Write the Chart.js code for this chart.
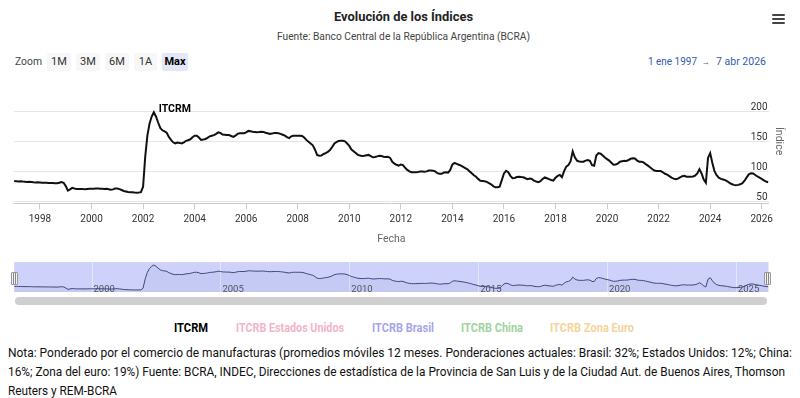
<!DOCTYPE html>
<html lang="es">
<head>
<meta charset="utf-8">
<title>Evolución de los Índices</title>
<script src="https://cdn.jsdelivr.net/npm/chart.js@4.4.1/dist/chart.umd.min.js"></script>
<style>
html,body{margin:0;padding:0;background:#fff}
body{width:800px;height:398px;position:relative;overflow:hidden;font-family:Roboto,"Liberation Sans",Arial,sans-serif;color:#333}
.t{position:absolute;white-space:nowrap;display:inline-block;line-height:1.25;transform-origin:0 50%}
.btn{position:absolute;top:53px;height:18px;line-height:18px;text-align:center;font-size:11px;color:#333;background:#f7f7f7;border-radius:2px}
.btn.sel{background:#e3e7f8;color:#000;font-weight:bold}
canvas{position:absolute;left:0}
.bar{position:absolute;left:772px;width:13px;height:2px;background:#444;border-radius:1px}
.handle{position:absolute;top:272px;width:5px;height:11px;border:1px solid #999;border-radius:1px;
 background:linear-gradient(90deg,#f2f2f2 1px,#888 1px,#888 2px,#f2f2f2 2px,#f2f2f2 3px,#888 3px,#888 4px,#f2f2f2 4px)}
#scroll{position:absolute;left:15px;top:297px;width:752px;height:8px;background:#cfcfcf;border-radius:4px}
#yTitle{position:absolute;writing-mode:vertical-rl;font-size:10.5px;color:#666;white-space:nowrap}
</style>
</head>
<body>
<span class="t" data-x="334" data-y="17" data-w="139" style="font-size:13px;font-weight:bold;color:#222">Evolución de los Índices</span>
<span class="t" data-x="277" data-y="37" data-w="253" style="font-size:11px;color:#444">Fuente: Banco Central de la República Argentina (BCRA)</span>

<div class="bar" style="top:14px"></div>
<div class="bar" style="top:18px"></div>
<div class="bar" style="top:22px"></div>

<span class="t" data-x="15" data-y="62" data-w="27" style="font-size:11px;color:#444">Zoom</span>
<div id="buttons"></div>

<span class="t" data-x="648" data-y="62" data-w="49" style="font-size:11px;color:#335cad">1 ene 1997</span>
<span class="t" data-x="702" data-y="62" data-w="8" style="font-size:11px;color:#666">→</span>
<span class="t" data-x="716" data-y="62" data-w="50" style="font-size:11px;color:#335cad">7 abr 2026</span>

<canvas id="main" width="800" height="160" style="top:90px;width:800px;height:160px"></canvas>
<div id="yTitle">Índice</div>

<canvas id="nav" width="800" height="30" style="top:262px;width:800px;height:30px"></canvas>
<div class="handle" style="left:11px"></div>
<div class="handle" style="left:764px"></div>
<div id="scroll"></div>

<div id="legend"></div>

<span class="t" data-x="8" data-y="353" data-w="784" style="font-size:13px;color:#111">Nota: Ponderado por el comercio de manufacturas (promedios móviles 12 meses. Ponderaciones actuales: Brasil: 32%; Estados Unidos: 12%; China:</span>
<span class="t" data-x="8" data-y="372" data-w="777" style="font-size:13px;color:#111">16%; Zona del euro: 19%) Fuente: BCRA, INDEC, Direcciones de estadística de la Provincia de San Luis y de la Ciudad Aut. de Buenos Aires, Thomson</span>
<span class="t" data-x="8" data-y="391" data-w="109" style="font-size:13px;color:#111">Reuters y REM-BCRA</span>

<script>
// ---------- DATA ----------
const startYear = 1997;            // first month: January 1997, monthly values
const rangeStart = 1997.0;         // 1 ene 1997
const rangeEnd = 2026 + 96 / 365;  // 7 abr 2026

const itcrm_1997_2001 = [
  84.5, 84.2, 83.8, 84.0, 83.5, 83.2, 82.8, 83.2, 82.8, 82.3, 82.0, 82.2,
  82.0, 81.7, 81.4, 81.6, 81.3, 81.0, 81.2, 80.8, 80.6, 81.5, 82.8, 81.5,
  76.0, 68.5, 70.5, 73.0, 72.0, 71.2, 71.0, 71.3, 71.0, 70.8, 71.2, 71.5,
  71.7, 71.5, 71.8, 72.0, 71.5, 71.7, 71.2, 71.4, 70.6, 69.8, 70.5, 71.8,
  72.0, 71.0, 69.5, 67.8, 67.0, 66.2, 65.6, 65.8, 65.3, 65.0, 65.3, 65.8
];
const itcrm_2002_2006 = [
  75, 125, 160, 180, 192, 199, 192, 182, 173, 169, 167, 165,
  158, 153, 149, 147, 148.5, 148, 147, 149, 151.5, 152.5, 154, 157.5,
  160, 160, 157, 153, 153.5, 154.5, 156.5, 159, 160, 161, 163, 165.5,
  164.5, 162, 161.5, 161, 161, 159.5, 158, 160, 163, 164, 164, 164,
  165.5, 168, 167.5, 166.7, 166.3, 165.6, 166, 166.7, 166.3, 165, 164, 163
];
const itcrm_2007_2011 = [
  163.5, 164.5, 164.5, 164, 163, 161.5, 160, 157.5, 156, 159, 160, 160,
  160, 160, 159.5, 157, 153, 150, 147, 144, 137, 128, 126.5, 127,
  129.5, 131, 133, 136, 141, 146.5, 149.5, 151, 151.5, 151.5, 150.5, 147,
  143, 137, 134, 131, 128, 127, 126, 126.5, 127.5, 128, 126, 124,
  124.5, 125.5, 126.5, 126, 125, 124.5, 125, 123, 116.5, 113.5, 111.5, 110
];
const itcrm_2012_2016 = [
  112, 111, 106.5, 103, 100.5, 99, 99, 99, 99.5, 100.5, 100.5, 100,
  100.5, 102, 102, 101.5, 100.5, 97.5, 96.5, 96.5, 98.5, 99, 98.5, 103,
  112, 114.5, 113, 111.5, 110, 108, 106, 104, 100.5, 97.5, 94, 91.5,
  88, 85, 84.5, 84, 83, 81, 79, 76, 74, 74, 75, 86,
  97, 101.5, 99, 93, 89, 89.5, 91, 91.7, 91, 90.6, 89, 87.5
];
const itcrm_2017_2021 = [
  88.5, 88, 85, 83.5, 82.5, 84, 88, 90.5, 89, 87.5, 86, 85,
  90, 93, 94.5, 91, 101, 108.5, 111, 117, 134, 124, 118.5, 117,
  116.5, 116.7, 118.5, 119.5, 118, 111, 110, 127, 131, 130, 127, 123.5,
  121, 118.5, 115, 111.5, 112, 113.5, 116.7, 117.5, 118.3, 118, 119.5, 121.5,
  122.3, 122, 118.5, 116.7, 116.5, 115.5, 112.5, 110, 107.5, 104.5, 102, 101
];
const itcrm_2022_2026 = [
  101, 101, 99, 96.5, 95, 92.5, 90, 88.5, 87.3, 88.5, 90.6, 92.5,
  93, 91.5, 91.7, 91.5, 92, 93.5, 97, 104, 97, 87, 81.5, 123,
  131, 115, 101, 94, 90, 88, 87, 86, 84, 81.5, 79.5, 78,
  77.5, 78, 79, 81, 85, 90.5, 95.5, 97.5, 97, 94.5, 92, 90,
  88, 85.5, 83.5, 82.5
];

const xTickYears = [1998, 2000, 2002, 2004, 2006, 2008, 2010, 2012, 2014, 2016, 2018, 2020, 2022, 2024, 2026];
const yTickValues = [50, 100, 150, 200];
const navTickYears = [2000, 2005, 2010, 2015, 2020, 2025];
const rangeButtons = ['1M', '3M', '6M', '1A', 'Max'];
const legendNames = ['ITCRM', 'ITCRB Estados Unidos', 'ITCRB Brasil', 'ITCRB China', 'ITCRB Zona Euro'];

// ---------- BUILD ----------
const itcrm = [].concat(itcrm_1997_2001, itcrm_2002_2006, itcrm_2007_2011,
                        itcrm_2012_2016, itcrm_2017_2021, itcrm_2022_2026);
const points = itcrm.map((v, i) => ({ x: startYear + i / 12, y: v }));

// range buttons
const btnLeft = [47, 76, 105, 134, 162];
const btnWidth = [24, 24, 24, 23, 26];
const bc = document.getElementById('buttons');
rangeButtons.forEach((b, i) => {
  const d = document.createElement('div');
  d.className = 'btn' + (b === 'Max' ? ' sel' : '');
  d.style.left = btnLeft[i] + 'px';
  d.style.width = btnWidth[i] + 'px';
  d.textContent = b;
  bc.appendChild(d);
});

// legend
const legendColors = ['#000000', '#f2b4c6', '#a7a5ea', '#9fd49f', '#f6d49c'];
const legendBox = [[174, 34], [236, 108], [372, 62], [461, 62], [550, 84]];
const lg = document.getElementById('legend');
legendNames.forEach((n, i) => {
  const s = document.createElement('span');
  s.className = 't';
  s.dataset.x = legendBox[i][0];
  s.dataset.y = 328;
  s.dataset.w = legendBox[i][1];
  s.style.fontSize = '12px';
  s.style.fontWeight = 'bold';
  s.style.color = legendColors[i];
  s.textContent = n;
  lg.appendChild(s);
});

// fit text boxes
function fitTexts() {
  document.querySelectorAll('[data-w]').forEach(el => {
    el.style.transform = 'none';
    const w = +el.dataset.w, x = +el.dataset.x, y = +el.dataset.y;
    const r = el.getBoundingClientRect();
    el.style.left = x + 'px';
    el.style.top = (y - r.height / 2) + 'px';
    el.style.transform = 'scaleX(' + (w / r.width) + ')';
  });
  const yt = document.getElementById('yTitle');
  const r = yt.getBoundingClientRect();
  yt.style.left = (779 - r.width / 2) + 'px';
  yt.style.top = (141.5 - r.height / 2) + 'px';
}
fitTexts();
if (document.fonts && document.fonts.ready) document.fonts.ready.then(fitTexts);

Chart.defaults.font.family = 'Roboto, "Liberation Sans", Arial, sans-serif';

const mainDecor = {
  id: 'mainDecor',
  afterDatasetsDraw(chart) {
    const { ctx, chartArea, scales: { x, y } } = chart;
    ctx.save();
    ctx.font = '10px Roboto, "Liberation Sans", Arial, sans-serif';
    ctx.fillStyle = '#333';
    ctx.textAlign = 'right';
    ctx.textBaseline = 'alphabetic';
    yTickValues.forEach(v => ctx.fillText(String(v), chartArea.right - 1, y.getPixelForValue(v) - 2));
    const data = chart.data.datasets[0].data;
    let im = 0;
    data.forEach((p, i) => { if (p.y > data[im].y) im = i; });
    ctx.font = 'bold 10.5px Roboto, "Liberation Sans", Arial, sans-serif';
    ctx.fillStyle = '#000';
    ctx.textAlign = 'left';
    ctx.textBaseline = 'middle';
    ctx.fillText('ITCRM', x.getPixelForValue(data[im].x) + 5, y.getPixelForValue(data[im].y) - 3);
    ctx.restore();
  }
};

new Chart(document.getElementById('main'), {
  type: 'line',
  data: { datasets: [{
    label: 'ITCRM', data: points, borderColor: '#111', borderWidth: 2,
    pointRadius: 0, tension: 0, fill: false, clip: 4
  }] },
  options: {
    responsive: false, animation: false, devicePixelRatio: 1,
    layout: { padding: { left: 14.2, right: 31.5, top: 21.7, bottom: 0 } },
    plugins: { legend: { display: false }, tooltip: { enabled: false }, title: { display: false } },
    scales: {
      x: {
        type: 'linear', min: rangeStart, max: rangeEnd,
        afterBuildTicks: s => { s.ticks = xTickYears.map(v => ({ value: v })); },
        ticks: { autoSkip: false, maxRotation: 0, color: '#333', font: { size: 10 }, padding: 4,
                 callback: v => String(v) },
        grid: { drawOnChartArea: false, drawTicks: true, tickLength: 6, color: '#c8ccd6' },
        border: { display: true, color: '#c8ccd6' },
        title: { display: true, text: 'Fecha', color: '#666', font: { size: 10.5 }, padding: { top: 0, bottom: 4.4 } },
        afterFit: s => { s.height = 46.7; s.paddingLeft = 0; s.paddingRight = 0; }
      },
      y: {
        type: 'linear', position: 'right', min: 47.3, max: 200,
        afterBuildTicks: s => { s.ticks = yTickValues.map(v => ({ value: v })); },
        ticks: { display: false },
        grid: { color: '#e6e6e6', drawTicks: false },
        border: { display: false },
        afterFit: s => { s.width = 0; s.paddingTop = 0; s.paddingBottom = 0; }
      }
    }
  },
  plugins: [mainDecor]
});

const navDecor = {
  id: 'navDecor',
  beforeDatasetsDraw(chart) {
    const { ctx, chartArea: a, scales: { x } } = chart;
    ctx.save();
    ctx.fillStyle = 'rgba(112,120,236,0.34)';
    ctx.fillRect(a.left, a.top, a.right - a.left, a.bottom - a.top);
    ctx.strokeStyle = 'rgba(255,255,255,0.45)';
    ctx.lineWidth = 1;
    navTickYears.forEach(v => {
      const px = Math.round(x.getPixelForValue(v)) + 0.5;
      ctx.beginPath(); ctx.moveTo(px, a.top); ctx.lineTo(px, a.bottom); ctx.stroke();
    });
    ctx.font = '9.5px Roboto, "Liberation Sans", Arial, sans-serif';
    ctx.fillStyle = '#555';
    ctx.textAlign = 'left';
    ctx.textBaseline = 'alphabetic';
    navTickYears.forEach(v => ctx.fillText(String(v), x.getPixelForValue(v) + 2, a.bottom - 0.5));
    ctx.restore();
  }
};

new Chart(document.getElementById('nav'), {
  type: 'line',
  data: { datasets: [{
    data: points, borderColor: '#3e4878', borderWidth: 1, pointRadius: 0, tension: 0,
    fill: 'start', backgroundColor: 'rgba(51,92,173,0.06)'
  }] },
  options: {
    responsive: false, animation: false, devicePixelRatio: 1,
    layout: { padding: { left: 14.2, right: 31.5, top: 0, bottom: 0 } },
    plugins: { legend: { display: false }, tooltip: { enabled: false } },
    scales: {
      x: { type: 'linear', display: false, min: rangeStart, max: rangeEnd },
      y: { type: 'linear', display: false, min: 54.3, max: 215 }
    }
  },
  plugins: [navDecor]
});
</script>
</body>
</html>
